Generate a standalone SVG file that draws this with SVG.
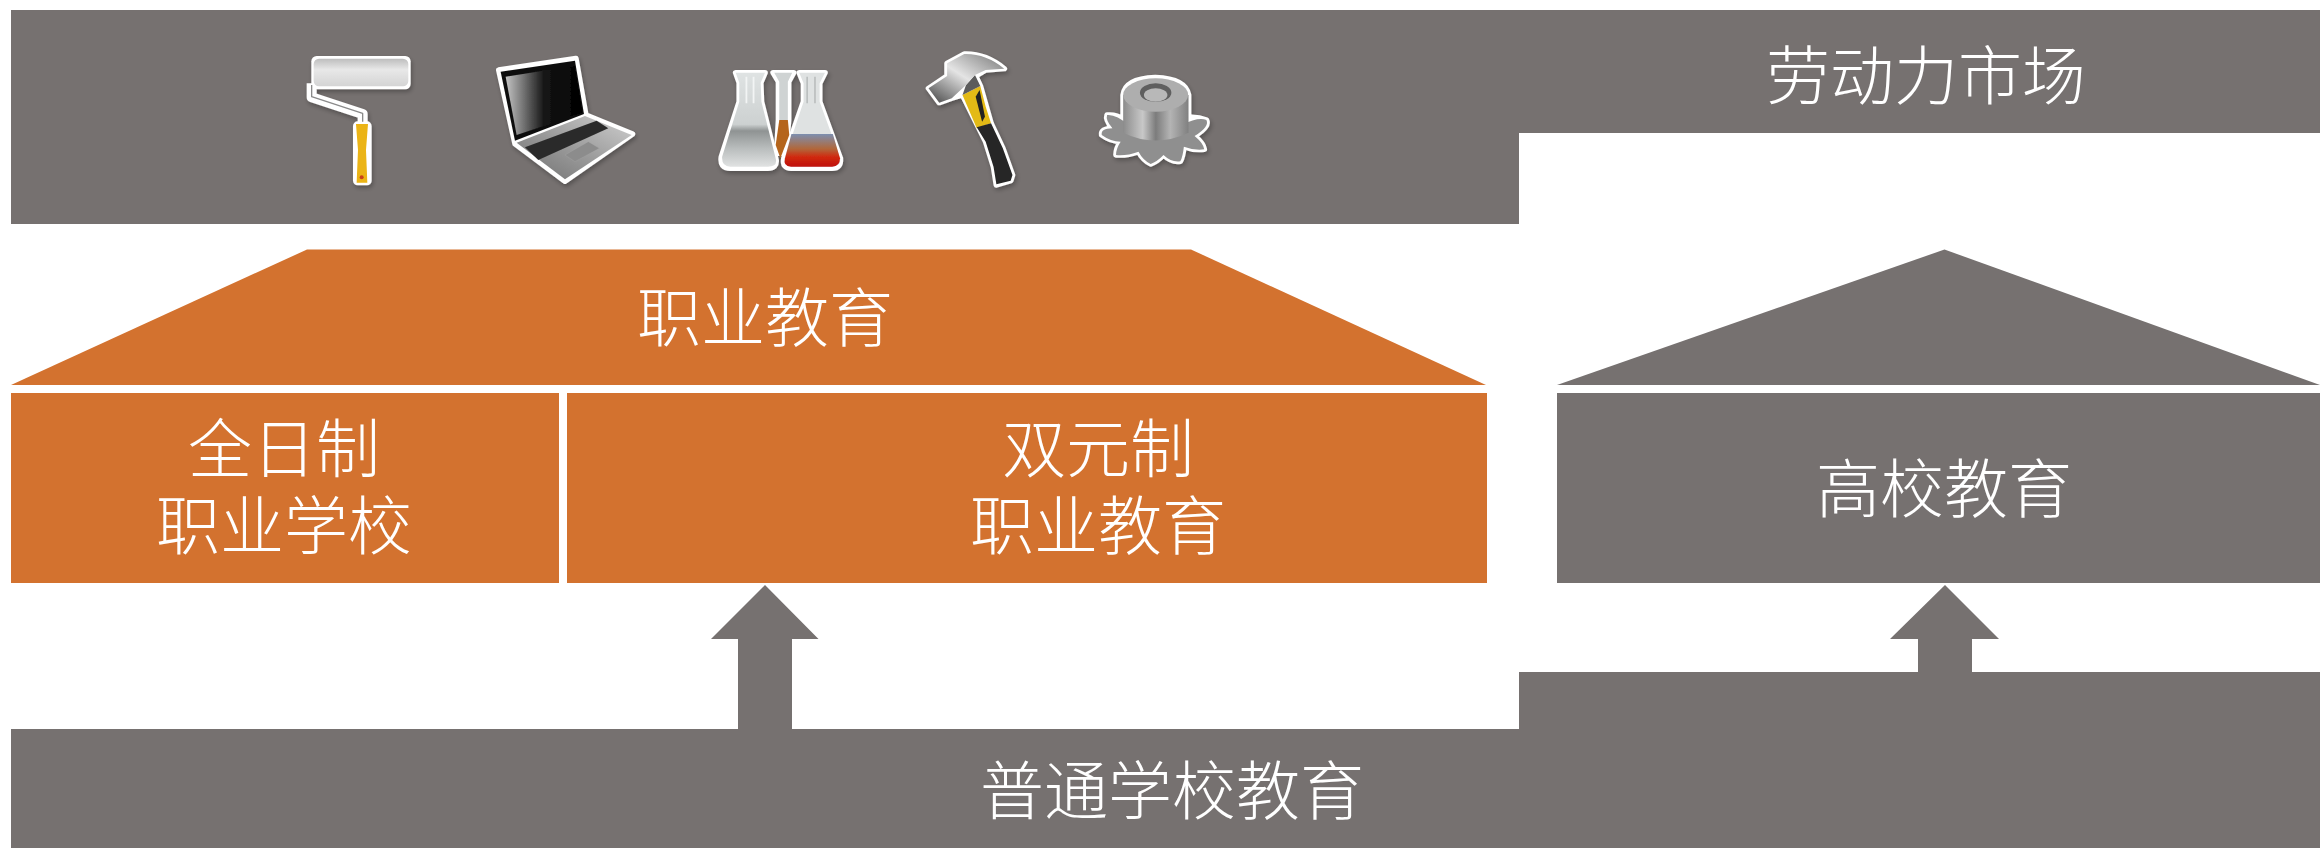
<svg xmlns="http://www.w3.org/2000/svg" width="2320" height="848" viewBox="0 0 2320 848">
<style>
.g{fill:#767170}.o{fill:#D3722F}
text{font-family:"Noto Sans CJK SC","Noto Sans CJK JP",sans-serif;font-size:64px;font-weight:300;fill:#fff;text-anchor:middle}
.w{fill:#fff;stroke:#fff;stroke-width:16;stroke-linejoin:round;stroke-linecap:round}
</style>
<defs>
<filter id="sh" x="-20%" y="-20%" width="140%" height="140%"><feDropShadow dx="4" dy="8" stdDeviation="7" flood-color="#000" flood-opacity=".28"/></filter>
<linearGradient id="scr" x1="0" y1="0" x2="1" y2="0"><stop offset="0" stop-color="#c4c4c4"/><stop offset=".5" stop-color="#151515"/><stop offset="1" stop-color="#000"/></linearGradient>
<linearGradient id="base" x1="0" y1="1" x2="1" y2="0"><stop offset="0" stop-color="#6f6f6f"/><stop offset=".5" stop-color="#9c9c9c"/><stop offset="1" stop-color="#d0d0d0"/></linearGradient>
<linearGradient id="liq" x1="0" y1="0" x2="0" y2="1"><stop offset="0" stop-color="#7d8fb0"/><stop offset=".45" stop-color="#b0683c"/><stop offset=".7" stop-color="#d02a10"/><stop offset="1" stop-color="#c01010"/></linearGradient>
<linearGradient id="glass" x1="0" y1="0" x2="0" y2="1"><stop offset="0" stop-color="#dfe3e3"/><stop offset=".55" stop-color="#cdd1d1"/><stop offset=".62" stop-color="#8f9393"/><stop offset=".8" stop-color="#b8bcbc"/><stop offset="1" stop-color="#e0e2e2"/></linearGradient>
<linearGradient id="steel" x1="0" y1="0" x2="1" y2="0"><stop offset="0" stop-color="#8c8c8c"/><stop offset=".3" stop-color="#c8c8c8"/><stop offset=".5" stop-color="#7c7c7c"/><stop offset=".72" stop-color="#b4b4b4"/><stop offset="1" stop-color="#808080"/></linearGradient>
<linearGradient id="hd" x1="0" y1="1" x2="1" y2="0"><stop offset="0" stop-color="#444"/><stop offset=".5" stop-color="#e4e4e4"/><stop offset="1" stop-color="#777"/></linearGradient>
<linearGradient id="roll" x1="0" y1="0" x2="0" y2="1"><stop offset="0" stop-color="#bdbdbd"/><stop offset=".4" stop-color="#e8e8e8"/><stop offset="1" stop-color="#d4d4d4"/></linearGradient>
</defs>

<g id="labour-market"><path class="g" d="M11 10H2320V133H1519V224H11Z"/><text x="1926" y="99">劳动力市场</text></g>

<g id="icon-roller" transform="translate(260 20) scale(.3333)" filter="url(#sh)">
<path d="M155 190V232L308 282V312" fill="none" stroke="#fff" stroke-width="30" stroke-linejoin="round"/>
<rect x="154" y="108" width="298" height="100" rx="16" fill="#fff"/>
<rect x="279" y="304" width="56" height="192" rx="14" fill="#fff"/>
<rect x="161" y="116" width="284" height="83" rx="16" fill="url(#roll)"/>
<path d="M155 195V230L308 280V305" fill="none" stroke="#8a8a8a" stroke-width="4" stroke-linejoin="round"/>
<path d="M288 312H324L318 390 322 488H290L294 390Z" fill="#EBB412"/>
<circle cx="305" cy="472" r="6" fill="#c8401a"/>
</g>

<g id="icon-laptop" transform="translate(260 20) scale(.3333)" filter="url(#sh)">
<path class="w" d="M716 150 948 115 978 285 1118 342 915 484 765 372Z"/>
<path d="M722 155 945 122 972 282 765 362Z" fill="#111"/>
<path d="M737 170 945 137 968 278 770 345Z" fill="url(#scr)"/>
<path d="M770 368 975 288 1115 345 915 478Z" fill="url(#base)"/>
<path d="M795 382 1010 302 1045 325 835 420Z" fill="#2c2c2c"/>
<path d="M915 405 985 365 1018 385 945 425Z" fill="#8c8c8c" stroke="#aaa"/>
</g>

<g id="icon-flasks" transform="translate(700 20) scale(.3571 .3333)" filter="url(#sh)">
<path class="w" d="M205 158H262L248 185V300L240 400H215L220 300V185Z"/>
<path class="w" d="M100 158H182L170 188 172 245 213 420Q215 445 190 445H85Q55 445 60 410L110 245V188Z"/>
<path class="w" d="M278 158H350L335 190V245L393 415Q395 445 370 445H255Q230 445 235 415L290 245V190Z"/>
<path d="M208 158H258L246 185V300H222V185Z" fill="#cfd3d3"/>
<path d="M222 300H246L250 345 225 415 212 375Z" fill="#b5651d"/>
<path d="M100 158H182L170 188 172 245 213 420Q215 440 190 440H85Q60 440 62 410L110 245V188Z" fill="url(#glass)"/>
<path d="M130 170V250M150 170V250" stroke="#f2f4f4" stroke-width="5" fill="none"/>
<path d="M278 158H350L335 190V245L393 415Q395 440 370 440H255Q232 440 237 415L290 245V190Z" fill="#dfe2e2"/>
<path d="M300 170V250M322 170V250" stroke="#b5b9b9" stroke-width="4" fill="none"/>
<path d="M256 342H372L392 415Q392 440 370 440H255Q232 440 238 415Z" fill="url(#liq)"/>
</g>

<g id="icon-hammer" transform="translate(700 20) scale(.3571 .3333)" filter="url(#sh)">
<path class="w" d="M640 205 692 168 692 130 740 102Q800 100 852 146L800 150 772 168 785 198 815 310 848 385 875 465 870 482 830 495 822 440 800 365 735 225 705 235 670 248Z"/>
<path d="M735 225 785 198 800 260 815 310 775 325Z" fill="#E3BA18"/>
<path d="M783 210 798 290 790 305 772 230Z" fill="#222"/>
<path d="M775 322 815 310 848 385 875 465 870 482 830 493 822 440 800 365Z" fill="#262626"/>
<path d="M745 195 770 165 785 198 735 225Z" fill="#5c5c5c"/>
<path d="M640 205 692 168 692 130 740 102Q800 100 852 146L800 150 770 165 745 195 705 235 670 248Z" fill="url(#hd)"/>
</g>

<g id="icon-gear" transform="translate(700 20) scale(.3571 .3333)" filter="url(#sh)">
<path class="w" d="M1140 285Q1165 282 1185 298V225Q1190 175 1275 172 1360 175 1368 225V292Q1395 290 1418 300 1428 320 1385 348 1410 370 1412 388 1385 392 1355 380 1352 410 1345 424 1320 428 1298 405 1280 425 1262 432 1240 420 1228 395 1195 408 1165 405 1165 385 1178 365 1150 365 1125 345 1122 325 1155 325 1135 300 1140 285Z"/>
<path d="M1140 285Q1165 282 1200 315L1350 315Q1395 290 1418 300 1428 320 1385 348 1410 370 1412 388 1385 392 1355 380 1352 410 1345 424 1320 428 1298 405 1280 425 1262 432 1240 420 1228 395 1195 408 1165 405 1165 385 1178 365 1150 365 1125 345 1122 325 1155 325 1135 300 1140 285Z" fill="#8f8f8f"/>
<path d="M1185 225V338Q1275 385 1368 338V225Z" fill="url(#steel)"/>
<ellipse cx="1276" cy="225" rx="91" ry="50" fill="#aeaeae"/>
<ellipse cx="1276" cy="218" rx="44" ry="28" fill="#5e5e5e"/>
<ellipse cx="1276" cy="225" rx="33" ry="20" fill="#b8b8b8"/>
</g>

<g id="vocational-roof"><path class="o" d="M307 249.500H1191L1486 385H11Z"/><text x="765" y="341">职业教育</text></g>
<g id="fulltime"><rect class="o" x="11" y="393" width="548" height="190"/><text x="284" y="472">全日制<tspan x="284" dy="77">职业学校</tspan></text></g>
<g id="dual"><rect class="o" x="567" y="393" width="920" height="190"/><text x="1098" y="472">双元制<tspan x="1098" dy="77">职业教育</tspan></text></g>
<g id="higher-roof"><path class="g" d="M1944.500 249.500 2320 385H1557Z"/></g>
<g id="higher"><path class="g" d="M1557 393H2320V583H1557Z"/><text x="1944" y="512">高校教育</text></g>
<g id="general"><path class="g" d="M11 729H1519V672H2320V848H11Z"/><text x="1172" y="814">普通学校教育</text></g>
<g id="connectors">
<path class="g" d="M765 585 818.500 639H792V729H738V639H711Z"/>
<path class="g" d="M1945 585 1999 639H1972V672H1918V639H1890Z"/>
</g>
</svg>
